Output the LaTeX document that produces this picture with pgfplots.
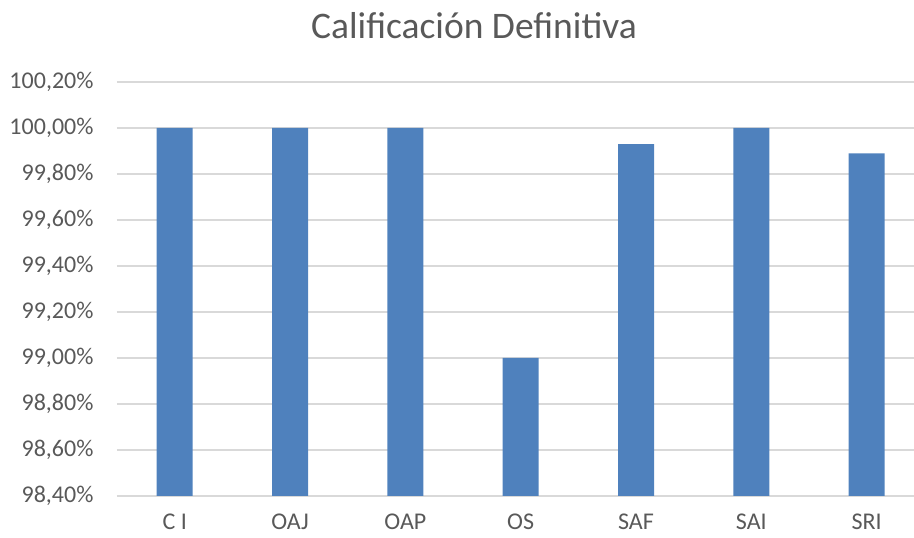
\documentclass[border=0pt]{standalone}
\usepackage{pgfplots}
\pgfplotsset{compat=1.18}
\usepackage{fontspec}
\setmainfont{Carlito}
\definecolor{barblue}{HTML}{4F81BD}
\definecolor{gridgray}{HTML}{D9D9D9}
\definecolor{txtgray}{HTML}{595959}
\begin{document}
\begin{tikzpicture}
\path[use as bounding box] (-117pt,-42pt) rectangle (797pt,496pt);
\begin{axis}[
  at={(0pt,0pt)}, anchor=south west,
  scale only axis, width=797pt, height=414pt,
  xmin=-0.5, xmax=6.41, ymin=98.4, ymax=100.2,
  axis line style={draw=none},
  ytick={98.4,98.6,98.8,99.0,99.2,99.4,99.6,99.8,100.0,100.2},
  yticklabels={{98,40\%},{98,60\%},{98,80\%},{99,00\%},{99,20\%},{99,40\%},{99,60\%},{99,80\%},{100,00\%},{100,20\%}},
  xtick={0,1,2,3,4,5,6},
  xticklabels={C I,OAJ,OAP,OS,SAF,SAI,SRI},
  major tick length=0pt,
  ymajorgrids, grid style={gridgray, line width=1.5pt},
  ticklabel style={font=\fontsize{24}{28}\selectfont, text=txtgray},
  yticklabel style={xshift=-20pt},
  xticklabel style={yshift=-14pt},
  ybar, bar width=36pt,
  clip=true,
]
\addplot[fill=barblue, draw=none] coordinates {
  (0,100.00) (1,100.00) (2,100.00) (3,99.00) (4,99.93) (5,100.00) (6,99.89)
};
\end{axis}
\node[text=txtgray, font=\fontsize{37.5}{42}\selectfont] at (357pt,470pt) {Calificación Definitiva};
\end{tikzpicture}
\end{document}
